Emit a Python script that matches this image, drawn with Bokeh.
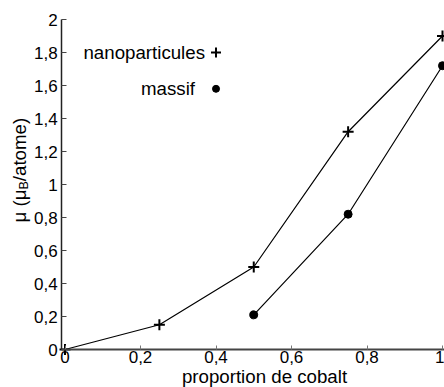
from bokeh.plotting import figure
from bokeh.models import FixedTicker, Label, Range1d
from bokeh.embed import file_html
from bokeh.resources import INLINE

# data
nano_x = [0.0, 0.25, 0.5, 0.75, 1.0]
nano_y = [0.0, 0.15, 0.5, 1.32, 1.9]
massif_x = [0.5, 0.75, 1.0]
massif_y = [0.21, 0.82, 1.72]
x_ticks = [0, 0.2, 0.4, 0.6, 0.8, 1.0]
x_tick_labels = ["0", "0,2", "0,4", "0,6", "0,8", "1"]
y_ticks = [0, 0.2, 0.4, 0.6, 0.8, 1.0, 1.2, 1.4, 1.6, 1.8, 2.0]
y_tick_labels = ["0", "0,2", "0,4", "0,6", "0,8", "1", "1,2", "1,4", "1,6", "1,8", "2"]
legend_names = ["nanoparticules", "massif"]
legend_x = [0.4, 0.4]
legend_y = [1.8, 1.58]

FONT = "Liberation Sans"
W, H = 444, 387
X_AXIS_START = -0.009

p = figure(width=W, height=H, output_backend="svg", toolbar_location=None,
           x_range=Range1d(-0.1709, 1.0053), y_range=Range1d(-0.2303, 2.1152),
           min_border=0)
p.outline_line_color = None
p.xgrid.grid_line_color = None
p.ygrid.grid_line_color = None
p.background_fill_color = "white"

# axes, pinned inside the frame
p.xaxis.fixed_location = 0
p.yaxis.fixed_location = X_AXIS_START
p.xaxis.bounds = (X_AXIS_START, 1.0053)
p.yaxis.bounds = (0, 2)
p.xaxis.ticker = FixedTicker(ticks=x_ticks)
p.xaxis.major_label_overrides = {t: l for t, l in zip(x_ticks, x_tick_labels)}
p.yaxis.ticker = FixedTicker(ticks=y_ticks)
p.yaxis.major_label_overrides = {t: l for t, l in zip(y_ticks, y_tick_labels)}
for ax in (p.xaxis, p.yaxis):
    ax.minor_tick_line_color = None
    ax.major_tick_out = 0
    ax.major_tick_in = 5
    ax.major_label_text_font = FONT
    ax.major_label_text_font_size = "17px"
    ax.major_label_text_color = "black"
p.xaxis.axis_line_color = "#444444"
p.xaxis.axis_line_width = 2
p.xaxis.major_tick_line_color = "#777777"
p.xaxis.major_tick_in = 4
p.xaxis.major_label_standoff = 1
p.yaxis.axis_line_color = "#222222"
p.yaxis.axis_line_width = 1.5
p.yaxis.major_tick_line_color = "#444444"
p.yaxis.major_label_standoff = 4

# series
p.line(nano_x, nano_y, line_color="black", line_width=1.2)
p.scatter(nano_x, nano_y, marker="cross", size=11, line_color="black", line_width=2)
p.line(massif_x, massif_y, line_color="black", line_width=1.2)
p.scatter(massif_x, massif_y, marker="circle", size=8, fill_color="black", line_color="black")

# legend (hand-placed, as in the original)
p.scatter([legend_x[0]], [legend_y[0]], marker="cross", size=10, line_color="black", line_width=2)
p.scatter([legend_x[1]], [legend_y[1]], marker="circle", size=7, fill_color="black", line_color="black")
p.add_layout(Label(x=legend_x[0], y=legend_y[0], x_offset=-11, text=legend_names[0],
                   text_align="right", text_baseline="middle",
                   text_font=FONT, text_font_size="18.7px", text_color="black"))
p.add_layout(Label(x=legend_x[1], y=legend_y[1], x_offset=-21, text=legend_names[1],
                   text_align="right", text_baseline="middle",
                   text_font=FONT, text_font_size="18.7px", text_color="black"))

# axis titles (screen units, frame == canvas)
p.add_layout(Label(x=264, y=H - 376, x_units="screen", y_units="screen",
                   text="proportion de cobalt", text_align="center",
                   text_baseline="middle", text_font=FONT, text_font_size="18.7px", text_color="black"))
ylab_x = 19
ylab_y = H - 222
p.add_layout(Label(x=ylab_x, y=ylab_y, x_units="screen", y_units="screen", text="μ (μ",
                   angle=1.5708, text_align="left", text_baseline="middle", text_font=FONT,
                   text_font_size="18.7px", text_color="black"))
p.add_layout(Label(x=ylab_x, y=ylab_y, x_units="screen", y_units="screen", x_offset=4, y_offset=33.0,
                   text="B", angle=1.5708, text_align="left", text_baseline="middle", text_font=FONT,
                   text_font_size="12.5px", text_color="black"))
p.add_layout(Label(x=ylab_x, y=ylab_y, x_units="screen", y_units="screen", y_offset=41.3,
                   text="/atome)", angle=1.5708, text_align="left", text_baseline="middle",
                   text_font=FONT, text_font_size="18.7px", text_color="black"))

open("out.html", "w").write(file_html(p, INLINE))
